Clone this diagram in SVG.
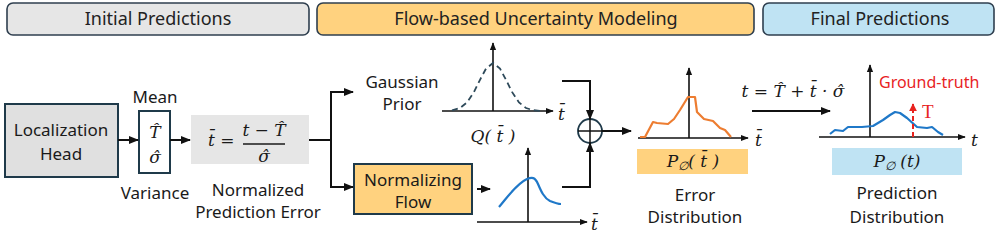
<svg xmlns="http://www.w3.org/2000/svg" width="996" height="240" viewBox="0 0 996 240">
<style>
.lbl{font-family:"Noto Sans","Open Sans",sans-serif;font-size:17px;fill:#1a1a1a;text-anchor:middle}
.hdr{font-family:"Noto Sans","Open Sans",sans-serif;font-size:18px;fill:#222;text-anchor:middle}
.math{font-family:"DejaVu Serif","Liberation Serif",serif;font-style:italic;font-size:17px;fill:#1a1a1a}
.box{stroke:#1f3a4a;stroke-width:2}
.ln{fill:none;stroke:#111;stroke-width:2}
.ax{fill:none;stroke:#111;stroke-width:1.6}
</style>
<defs>
<marker id="ah" viewBox="0 0 10 10" refX="9" refY="5" markerWidth="5" markerHeight="5" orient="auto" markerUnits="strokeWidth"><path d="M0,1 L10,5 L0,9 z" fill="#111"/></marker>
<marker id="ahr" viewBox="0 0 10 10" refX="9" refY="5" markerWidth="4" markerHeight="4" orient="auto" markerUnits="strokeWidth"><path d="M0,0 L10,5 L0,10 z" fill="#e8231f"/></marker>
</defs>

<g id="header-initial"><rect x="7" y="3" width="302" height="32" rx="6" fill="#e6e6e6" stroke="#2f3f4f" stroke-width="1.6"/><text class="hdr" x="158" y="25">Initial Predictions</text></g>
<g id="header-flow"><rect x="317" y="3" width="437" height="32" rx="6" fill="#ffd27f" stroke="#2f3f4f" stroke-width="1.6"/><text class="hdr" x="536" y="25">Flow-based Uncertainty Modeling</text></g>
<g id="header-final"><rect x="763" y="3" width="231" height="32" rx="6" fill="#bfe3f3" stroke="#2f3f4f" stroke-width="1.6"/><text class="hdr" x="880" y="25">Final Predictions</text></g>

<g id="localization-head"><rect class="box" x="5" y="104" width="113" height="73" fill="#e0e0e0"/><text class="lbl" x="61" y="136">Localization</text><text class="lbl" x="61" y="160">Head</text></g>

<g id="mean-variance"><rect class="box" x="139" y="111" width="31" height="62" fill="#fff"/>
<text class="math" x="155" y="138" text-anchor="middle">T&#x302;</text><text class="math" x="155" y="163" text-anchor="middle">σ&#x302;</text>
<text class="lbl" x="155" y="103">Mean</text><text class="lbl" x="155" y="199">Variance</text></g>

<g id="normalized-error"><rect x="191" y="115" width="118" height="49" fill="#e6e6e6"/>
<text class="math" x="208" y="146">t&#x304; =</text>
<text class="math" x="264" y="136" text-anchor="middle">t − T&#x302;</text>
<line x1="243" y1="144" x2="285" y2="144" stroke="#1a1a1a" stroke-width="1.3"/>
<text class="math" x="264" y="162" text-anchor="middle">σ&#x302;</text>
<text class="lbl" x="258" y="196">Normalized</text><text class="lbl" x="258" y="218">Prediction Error</text></g>

<g id="gaussian-prior"><text class="lbl" x="402" y="88">Gaussian</text><text class="lbl" x="402" y="110">Prior</text>
<line class="ax" x1="442" y1="111" x2="553" y2="111" marker-end="url(#ah)"/>
<line class="ax" x1="493" y1="111" x2="493" y2="43" marker-end="url(#ah)"/>
<polyline fill="none" stroke="#2e4a5a" stroke-width="1.8" stroke-dasharray="6,4" points="452,110.3 460,108 467,102.4 474,91.9 480,79.8 486,68.6 493,63 500,68.6 506,79.8 512,91.9 519,102.4 526,108 533,110.2 540,110.8"/>
<text class="math" x="558" y="120">t&#x304;</text>
<text class="math" x="493" y="142" text-anchor="middle">Q( t&#x304; )</text></g>

<g id="normalizing-flow"><rect class="box" x="354" y="164" width="118" height="50" fill="#ffd27f"/><text class="lbl" x="413" y="186">Normalizing</text><text class="lbl" x="413" y="208">Flow</text></g>

<g id="flow-output">
<line class="ax" x1="477" y1="222" x2="587" y2="222" marker-end="url(#ah)"/>
<line class="ax" x1="528" y1="222" x2="528" y2="148" marker-end="url(#ah)"/>
<path d="M499,207 C506,199 516,184 527,179 C532,177 535,177 538,184 C541,191 544,198 550,201 C555,203 558,204 561,204" fill="none" stroke="#1f78c8" stroke-width="2.2"/>
<text class="math" x="591" y="230">t&#x304;</text></g>

<g id="sum-node"><circle cx="590" cy="131" r="12" fill="#fff" stroke="#1f3a4a" stroke-width="1.8"/><line x1="578" y1="131" x2="602" y2="131" stroke="#111" stroke-width="1.5"/><line x1="590" y1="119" x2="590" y2="143" stroke="#111" stroke-width="1.5"/></g>

<g id="error-distribution">
<line class="ax" x1="638" y1="138" x2="748" y2="138" marker-end="url(#ah)"/>
<line class="ax" x1="689" y1="138" x2="689" y2="68" marker-end="url(#ah)"/>
<polyline fill="none" stroke="#ed7d31" stroke-width="2.2" stroke-linejoin="round" points="640,137 645,137 653,122 657,123 668,124 674,119 680,110 688,97 695,97 697,112 704,119 713,121 718,126 720,128 725,130 731,137"/>
<text class="math" x="755" y="146">t&#x304;</text>
<rect x="637" y="149" width="111" height="25" fill="#ffd27f"/>
<text class="math" x="693" y="167" text-anchor="middle">P<tspan font-size="12" dy="3">∅</tspan><tspan dy="-3">( t&#x304; )</tspan></text>
<text class="lbl" x="695" y="201">Error</text><text class="lbl" x="695" y="223">Distribution</text></g>

<g id="prediction-distribution">
<line class="ax" x1="819" y1="137" x2="965" y2="137" marker-end="url(#ah)"/>
<line class="ax" x1="870" y1="137" x2="870" y2="65" marker-end="url(#ah)"/>
<polyline fill="none" stroke="#1f78c8" stroke-width="2.2" stroke-linejoin="round" points="830,134 835,130 843,131 848,127 862,127 873,126 883,120 890,115 895,112 900,113 907,118 917,127 927,128 932,127 938,132 943,135"/>
<line x1="913" y1="137" x2="913" y2="104" stroke="#e8231f" stroke-width="2" stroke-dasharray="5,3" marker-end="url(#ahr)"/>
<text x="922" y="118" font-family="Liberation Serif,serif" font-size="19" fill="#e8231f">T</text>
<text x="879" y="88" font-family="Noto Sans,sans-serif" font-size="16" fill="#e8231f">Ground-truth</text>
<text class="math" x="971" y="146">t</text>
<rect x="832" y="148" width="130" height="27" fill="#bfe3f3"/>
<text class="math" x="897" y="167" text-anchor="middle">P<tspan font-size="12" dy="3">∅</tspan><tspan dy="-3"> (t)</tspan></text>
<text class="lbl" x="897" y="199">Prediction</text><text class="lbl" x="897" y="223">Distribution</text></g>

<g id="connectors">
<line class="ln" x1="118" y1="140" x2="138" y2="140" marker-end="url(#ah)"/>
<line class="ln" x1="170" y1="140" x2="190" y2="140" marker-end="url(#ah)"/>
<polyline class="ln" points="309,140 331,140"/>
<polyline class="ln" points="353,92 331,92 331,187 353,187" marker-end="url(#ah)"/>
<line class="ln" x1="331" y1="92" x2="353" y2="92" marker-end="url(#ah)"/>
<line class="ln" x1="477" y1="189" x2="490" y2="189" marker-end="url(#ah)"/>
<polyline class="ln" points="562,81 590,81 590,119" marker-end="url(#ah)"/>
<polyline class="ln" points="562,187 590,187 590,143" marker-end="url(#ah)"/>
<line class="ln" x1="602" y1="131" x2="631" y2="131" marker-end="url(#ah)"/>
<line class="ln" x1="752" y1="111" x2="830" y2="111" marker-end="url(#ah)"/>
<text class="math" x="793" y="97" text-anchor="middle">t = T&#x302; + t&#x304; · σ&#x302;</text>
</g>
</svg>
